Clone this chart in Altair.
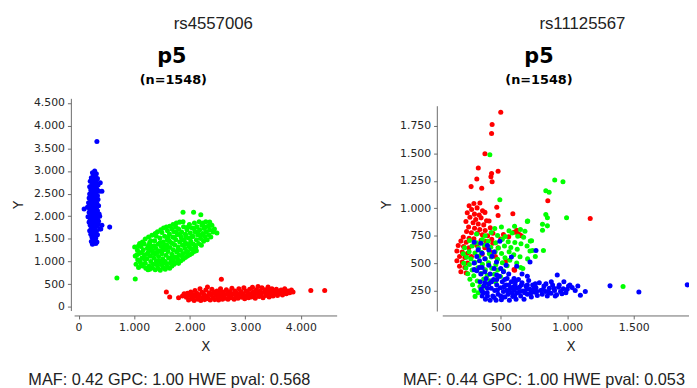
import altair as alt
import pandas as pd

# ---------------- text ----------------
SNP_TITLES = ["rs4557006", "rs11125567"]
PLATE_LABELS = ["p5", "p5"]
N_LABELS = ["(n=1548)", "(n=1548)"]
STATS = ["MAF: 0.42 GPC: 1.00 HWE pval: 0.568", "MAF: 0.44 GPC: 1.00 HWE pval: 0.053"]

GENOTYPES = ["AA", "AB", "BB"]
COLORS = ["#ff0000", "#00ff00", "#0000ff"]

X_TICKS_1 = [0, 1000, 2000, 3000, 4000]
Y_TICKS_1 = [0, 500, 1000, 1500, 2000, 2500, 3000, 3500, 4000, 4500]
X_TICKS_2 = [500, 1000, 1500]
Y_TICKS_2 = [250, 500, 750, 1000, 1250, 1500, 1750]

# ---------------- panel 1 (rs4557006) ----------------
L_BLUE = [
    (290, 3000), (250, 2960), (320, 2940), (270, 2900), (230, 2850), (300, 2870), (340, 2830), (260, 2800),
    (210, 2770), (310, 2760), (280, 2720), (240, 2700), (350, 2690), (200, 2650), (300, 2660), (260, 2620),
    (330, 2600), (220, 2580), (290, 2560), (370, 2550), (250, 2530), (310, 2500), (200, 2490), (270, 2470),
    (340, 2450), (230, 2430), (300, 2420), (190, 2400), (260, 2380), (350, 2370), (220, 2350), (310, 2340),
    (280, 2310), (180, 2300), (240, 2290), (330, 2280), (270, 2250), (210, 2240), (360, 2230), (300, 2210),
    (160, 2200), (250, 2190), (320, 2170), (200, 2160), (280, 2140), (340, 2120), (230, 2110), (300, 2090),
    (190, 2080), (260, 2060), (370, 2050), (220, 2030), (320, 2020), (280, 2000), (170, 1990), (240, 1970),
    (340, 1960), (300, 1940), (210, 1920), (260, 1900), (360, 1890), (190, 1870), (310, 1860), (240, 1840),
    (280, 1820), (210, 1800), (340, 1790), (260, 1770), (300, 1750), (230, 1730), (380, 1720), (270, 1700),
    (200, 1680), (320, 1670), (250, 1650), (290, 1620), (220, 1600), (340, 1590), (270, 1570), (240, 1540),
    (310, 1520), (260, 1490), (290, 1460), (230, 1440), (270, 1410), (310, 1400), (250, 1380),
    (330, 3650), (560, 1760), (420, 2550), (390, 2740), (400, 1720), (100, 2160), (380, 2000), (330, 1430),
    (420, 1800), (280, 2400), (250, 2250), (290, 2300), (270, 2050), (250, 2100), (290, 1980), (260, 2700),
    (300, 2580), (230, 2000), (320, 2380), (350, 1830),
]

L_GREEN = [
    (1010, 1320), (1020, 1120), (1035, 940), (1060, 1250), (1065, 1040), (1080, 870), (1095, 1180),
    (1110, 990), (1120, 1330), (1140, 1080), (1150, 900), (1165, 1260), (1180, 1390), (1185, 1150),
    (1200, 960), (1210, 850), (1230, 1060), (1240, 1300), (1255, 1210), (1270, 900), (1280, 1420),
    (1290, 1120), (1300, 1000), (1320, 1340), (1330, 1230), (1345, 940), (1355, 1080), (1370, 1460),
    (1380, 1170), (1395, 1290), (1400, 1020), (1420, 920), (1430, 1380), (1440, 1110), (1455, 1230),
    (1465, 1520), (1480, 980), (1490, 1330), (1500, 1170), (1515, 1060), (1525, 1430), (1540, 1260),
    (1550, 1560), (1560, 1000), (1575, 1140), (1585, 1370), (1595, 1480), (1610, 1220), (1620, 1080),
    (1635, 1610), (1645, 1310), (1660, 1420), (1670, 1030), (1680, 1160), (1695, 1540), (1705, 1260),
    (1715, 1660), (1730, 1370), (1740, 1100), (1750, 1480), (1765, 1210), (1775, 1590), (1790, 1320),
    (1800, 1720), (1810, 1140), (1820, 1430), (1835, 1250), (1845, 1540), (1855, 1650), (1870, 1360),
    (1880, 1180), (1890, 1770), (1900, 1470), (1915, 1290), (1925, 1600), (1940, 1400), (1950, 1700),
    (1960, 1220), (1975, 1520), (1985, 1330), (1995, 1820), (2010, 1630), (2020, 1450), (2035, 1270),
    (2045, 1740), (2060, 1560), (2070, 1380), (2085, 1850), (2095, 1660), (2110, 1310), (2120, 1480),
    (2130, 1770), (2145, 1590), (2160, 1400), (2170, 1880), (2180, 1700), (2195, 1510), (2210, 1360),
    (2220, 1800), (2235, 1620), (2250, 1450), (2260, 1730), (2275, 1550), (2290, 1880), (2300, 1660),
    (2315, 1480), (2330, 1780), (2345, 1590), (2360, 1700), (2380, 1540), (2400, 1800), (2420, 1650),
    (2445, 1720),
    (1050, 1150), (1130, 1200), (1230, 1160), (1310, 1280), (1360, 1350), (1410, 1200), (1470, 1420),
    (1530, 1340), (1570, 1290), (1630, 1460), (1690, 1400), (1720, 1530), (1760, 1650), (1830, 1610),
    (1860, 1480), (1930, 1550), (1970, 1760), (2040, 1550), (2080, 1730), (2150, 1660), (2200, 1580),
    (2240, 1850), (2280, 1760), (1100, 1400), (1190, 1050), (1260, 1360), (1340, 1180), (1450, 1020),
    (1610, 1530), (1790, 1250), (1910, 1380), (2000, 1380), (1510, 1250), (1690, 1110), (1880, 1880),
    (1280, 830), (1330, 860), (1380, 820), (1430, 850), (1470, 810), (1520, 870), (1560, 830), (1600, 880),
    (1640, 850), (1680, 900), (1720, 940), (1760, 980), (1800, 960), (1840, 1020), (1880, 1050),
    (1920, 1090), (1960, 1120), (2000, 1150), (2040, 1180), (2080, 1220), (2120, 1240), (1400, 940),
    (1500, 930), (1580, 950), (1650, 970), (1700, 1020), (1780, 1060), (1860, 1130), (1940, 1200),
    (2020, 1290), (2100, 1340),
    (1200, 1500), (1260, 1540), (1320, 1580), (1380, 1620), (1420, 1660), (1480, 1700), (1530, 1740),
    (1580, 1760), (1640, 1780), (1700, 1820), (1760, 1850), (1820, 1870), (1300, 1460), (1400, 1560),
    (1500, 1640), (1600, 1680), (1680, 1720), (1750, 1760), (1150, 1430), (1080, 1350),
    (690, 635), (1020, 615), (1880, 2090), (2070, 2090), (2200, 2035), (2360, 1870), (2380, 1800),
    (2490, 1630), (1250, 820), (1130, 940),
]

L_RED = [
    (1940, 210), (1960, 300), (1980, 150), (2000, 250), (2020, 330), (2040, 180), (2060, 270), (2080, 140),
    (2095, 360), (2110, 230), (2130, 300), (2150, 170), (2170, 260), (2185, 400), (2200, 140), (2220, 320),
    (2240, 210), (2255, 280), (2270, 160), (2290, 370), (2305, 240), (2320, 440), (2335, 180), (2350, 310),
    (2370, 150), (2385, 260), (2400, 390), (2420, 200), (2435, 330), (2450, 160), (2470, 270), (2490, 350),
    (2505, 210), (2520, 150), (2540, 300), (2555, 400), (2570, 230), (2590, 170), (2605, 330), (2620, 260),
    (2640, 190), (2660, 380), (2675, 290), (2690, 170), (2710, 240), (2730, 340), (2745, 200), (2760, 410),
    (2780, 280), (2800, 170), (2815, 350), (2830, 230), (2850, 300), (2870, 190), (2885, 400), (2900, 270),
    (2920, 340), (2940, 210), (2960, 290), (2975, 420), (2990, 180), (3010, 350), (3030, 250), (3045, 310),
    (3060, 200), (3080, 390), (3095, 280), (3110, 220), (3130, 430), (3150, 330), (3165, 250), (3180, 190),
    (3200, 380), (3215, 300), (3230, 450), (3250, 230), (3270, 350), (3285, 270), (3300, 420), (3320, 200),
    (3340, 320), (3355, 380), (3370, 250), (3390, 300), (3410, 440), (3430, 220), (3445, 360), (3460, 280),
    (3480, 400), (3500, 240), (3520, 330), (3540, 290), (3560, 390), (3580, 250), (3600, 340), (3620, 300),
    (3645, 370), (3670, 260), (3690, 330), (3710, 400), (3740, 290), (3770, 350), (3800, 310), (3830, 370),
    (3860, 330),
    (2050, 220), (2160, 220), (2280, 210), (2400, 290), (2560, 270), (2700, 300), (2840, 270), (2980, 240),
    (3120, 300), (3260, 300), (3400, 350), (3550, 320),
    (1580, 330), (1640, 220), (1800, 200), (1900, 290), (1870, 240), (2570, 610), (4180, 360), (4430, 360),
]

# ---------------- panel 2 (rs11125567) ----------------
R_RED = [
    (262, 1022), (298, 1043), (343, 1048), (281, 988), (322, 1003), (363, 976), (248, 958), (302, 946),
    (338, 938), (381, 962), (268, 918), (312, 897), (352, 912), (393, 886), (238, 878), (292, 868),
    (331, 857), (372, 848), (412, 883), (258, 828), (303, 818), (342, 806), (383, 797), (421, 822),
    (243, 788), (279, 776), (324, 771), (361, 757), (402, 748), (441, 772), (218, 738), (262, 727),
    (298, 722), (352, 707), (388, 698), (432, 716),
    (200, 700), (240, 690), (180, 660), (220, 650), (260, 640), (170, 610), (210, 600), (250, 590),
    (190, 560), (230, 550), (280, 560), (170, 520), (210, 510), (250, 500), (190, 470), (230, 460),
    (200, 420), (240, 410),
    (320, 660), (380, 640), (420, 600), (460, 560), (360, 580), (440, 680), (480, 640), (500, 720),
    (520, 760), (560, 740), (600, 780), (640, 760), (620, 800), (600, 440), (540, 520),
    (500, 1875), (435, 1764), (431, 1681), (381, 1496), (480, 1338), (331, 1367), (431, 1316), (426, 1287),
    (435, 1242), (320, 1266), (357, 1182), (277, 1197), (591, 949), (854, 1069), (470, 1008), (480, 933),
    (1173, 907), (604, 435), (654, 749), (629, 764),
]

R_GREEN = [
    (455, 815), (505, 828), (562, 795), (604, 836), (648, 806), (700, 880), (682, 790),
    (318, 765), (383, 748), (428, 778), (476, 752), (534, 742), (585, 775), (628, 745), (672, 735), (722, 700),
    (265, 705), (318, 686), (362, 714), (405, 698), (462, 684), (512, 716), (556, 695), (606, 688),
    (652, 676), (698, 655),
    (228, 640), (284, 655), (332, 636), (377, 664), (425, 645), (482, 637), (528, 655), (576, 642), (624, 626),
    (218, 585), (262, 604), (306, 592), (356, 597), (414, 584), (458, 604), (506, 588), (563, 602),
    (598, 575), (645, 558), (702, 538),
    (243, 552), (276, 536), (335, 562), (384, 538), (428, 556), (476, 535), (532, 548), (568, 525),
    (222, 498), (264, 486), (305, 506), (362, 488), (408, 503), (463, 485), (512, 502), (548, 476),
    (238, 454), (285, 436), (328, 456), (384, 438), (432, 452), (476, 436), (522, 428),
    (252, 402), (297, 385), (353, 405), (398, 386), (452, 398), (498, 378),
    (268, 352), (323, 336), (372, 355), (418, 338), (462, 328),
    (288, 302), (343, 286), (392, 303), (300, 250), (330, 230), (360, 262), (307, 196),
    (418, 1487), (493, 1078), (906, 1257), (968, 1242), (839, 1159), (864, 1146), (839, 943), (851, 913),
    (703, 883), (814, 800), (821, 615), (995, 913), (732, 704), (814, 854), (851, 839), (739, 615),
    (666, 451), (1420, 286), (620, 500), (650, 460), (760, 560), (720, 610),
]

R_BLUE = [
    (345, 330), (352, 260), (360, 200), (372, 290), (385, 170), (390, 360), (398, 230), (410, 310),
    (420, 160), (428, 270), (440, 200), (446, 350), (455, 250), (465, 160), (470, 300), (480, 215),
    (490, 380), (498, 275), (505, 165), (512, 330), (520, 240), (532, 190), (540, 300), (548, 360),
    (555, 215), (565, 160), (572, 270), (580, 330), (590, 195), (598, 250), (608, 300), (615, 170),
    (625, 230), (633, 350), (640, 280), (650, 200), (660, 320), (668, 245), (675, 170), (690, 290),
    (700, 215), (710, 340), (718, 260), (730, 190), (740, 300), (752, 235), (765, 275), (775, 205),
    (790, 320), (800, 250), (812, 215), (825, 290), (838, 240), (850, 200), (865, 270), (878, 225),
    (890, 300), (905, 250), (920, 210), (935, 280), (950, 240), (970, 265), (990, 230), (1010, 290),
    (370, 230), (400, 270), (430, 330), (450, 185), (475, 255), (500, 200), (525, 285), (545, 250),
    (560, 300), (585, 230), (605, 205), (620, 270), (645, 240), (655, 300), (680, 230), (695, 260),
    (725, 225), (745, 260), (770, 240), (820, 260), (860, 235), (400, 200), (360, 240), (520, 190),
    (590, 280), (470, 350), (530, 350), (380, 320), (560, 250), (610, 330), (700, 300), (760, 310),
    (840, 310), (900, 270),
    (300, 690), (330, 620), (350, 680), (400, 660), (493, 698), (320, 560), (360, 590), (410, 620),
    (450, 600), (300, 500), (340, 520), (380, 540), (435, 561), (468, 510), (410, 480), (450, 450),
    (360, 460), (320, 430), (380, 420), (420, 400), (470, 390), (350, 400), (500, 450), (520, 420),
    (560, 400), (580, 555), (720, 510), (765, 615), (620, 470), (660, 400), (700, 380), (540, 480),
    (600, 360), (340, 460), (300, 440),
    (925, 391), (975, 330), (1037, 276), (1099, 206), (1136, 241), (1322, 292), (1539, 236), (1903, 301),
    (1000, 260), (1060, 250), (960, 220), (1080, 290), (880, 330), (940, 300), (1020, 300), (910, 200),
]


def frame(red, green, blue):
    rows = []
    for g, pts in zip(GENOTYPES, [red, green, blue]):
        rows += [{"x": x, "y": y, "g": g} for x, y in pts]
    return pd.DataFrame(rows)


df1 = frame(L_RED, L_GREEN, L_BLUE)
df2 = frame(R_RED, R_GREEN, R_BLUE)

LABEL_EXPR = "replace(format(datum.value, ','), ',', '.')"
AX_COL = "#6b6b6b"
TXT_COL = "#262626"


def text_layer(s, x, y, font, size, weight="normal", color="#222222"):
    return alt.Chart(pd.DataFrame({"t": [s]})).mark_text(
        font=font, fontSize=size, fontWeight=weight, color=color,
        align="center", baseline="alphabetic",
    ).encode(text="t:N", x=alt.value(x), y=alt.value(y))


def panel(df, xdom, ydom, xticks, yticks, yoff, xtitle_x, ytitle_x, y_domain_line=True, extra=None):
    xaxis = alt.Axis(
        values=xticks, labelExpr=LABEL_EXPR, offset=5, tickSize=3.5, labelPadding=3,
        domainColor=AX_COL, tickColor=AX_COL, domainWidth=1, tickWidth=1,
        labelColor=TXT_COL, labelFont="DejaVu Sans", labelFontSize=11, labelFlush=False,
        grid=False, title="X", titleFont="DejaVu Sans", titleFontSize=13.5, titleFontWeight="normal",
        titleColor=TXT_COL, titleX=xtitle_x, titleY=36, titleAlign="center", titleBaseline="alphabetic",
    )
    yaxis = alt.Axis(
        values=yticks, labelExpr=LABEL_EXPR, offset=yoff, tickSize=3.5, labelPadding=3,
        domain=y_domain_line,
        domainColor=AX_COL, tickColor=AX_COL, domainWidth=1, tickWidth=1,
        labelColor=TXT_COL, labelFont="DejaVu Sans", labelFontSize=11, labelFlush=False,
        grid=False, title="Y", titleFont="DejaVu Sans", titleFontSize=13.5, titleFontWeight="normal",
        titleColor=TXT_COL, titleX=ytitle_x, titleY=107.5, titleAngle=270, titleAlign="center",
        titleBaseline="alphabetic",
    )
    pts = alt.Chart(df).mark_circle(size=26, opacity=1, clip=True).encode(
        x=alt.X("x:Q", scale=alt.Scale(domain=xdom, nice=False, zero=False), axis=xaxis),
        y=alt.Y("y:Q", scale=alt.Scale(domain=ydom, nice=False, zero=False), axis=yaxis),
        color=alt.Color("g:N", scale=alt.Scale(domain=GENOTYPES, range=COLORS), legend=None),
    )
    layers = [pts]
    if extra is not None:
        layers += extra
    return layers


# texts for panel 1 (plot origin at page 74,96)
p1_texts = [
    text_layer(SNP_TITLES[0], 141, -70, "Liberation Sans", 17, color="#222222"),
    text_layer(PLATE_LABELS[0], 99, -36, "DejaVu Sans", 21, "bold", "#000000"),
    text_layer(N_LABELS[0], 100.5, -14.5, "DejaVu Sans", 13, "bold", "#000000"),
    text_layer(STATS[0], 96.5, 290.5, "Liberation Sans", 16.5, color="#222222"),
    alt.Chart(pd.DataFrame({"a": [0]})).mark_point(size=1, filled=True, opacity=0).encode(
        x=alt.value(-66), y=alt.value(-88)),
]
# texts for panel 2 (plot origin at page 447,96)
p2_texts = [
    text_layer(SNP_TITLES[1], 142, -70, "Liberation Sans", 17, color="#222222"),
    text_layer(PLATE_LABELS[1], 98, -36, "DejaVu Sans", 21, "bold", "#000000"),
    text_layer(N_LABELS[1], 98, -14.5, "DejaVu Sans", 13, "bold", "#000000"),
    text_layer(STATS[1], 103, 290.5, "Liberation Sans", 16.5, color="#222222"),
    alt.Chart(pd.DataFrame({"a": [0]})).mark_rule(color=AX_COL, strokeWidth=1).encode(
        x=alt.value(-5), y=alt.value(8), y2=alt.value(216)),
]

left = alt.layer(*panel(df1, [-80, 4645], [-81, 4602], X_TICKS_1, Y_TICKS_1, 3.3, 133, -48.6,
                        extra=p1_texts)).properties(width=266, height=215)
right = alt.layer(*panel(df2, [60, 1916], [67, 2002], X_TICKS_2, Y_TICKS_2, 5.3, 130, -47.6,
                         y_domain_line=False, extra=p2_texts)).properties(width=250, height=215)

chart = alt.hconcat(left, right, spacing=107, bounds="flush").properties(
    padding=0, background="white"
).configure_view(stroke=None)

chart.save("out.html", embed_options={"renderer": "svg", "actions": False})
